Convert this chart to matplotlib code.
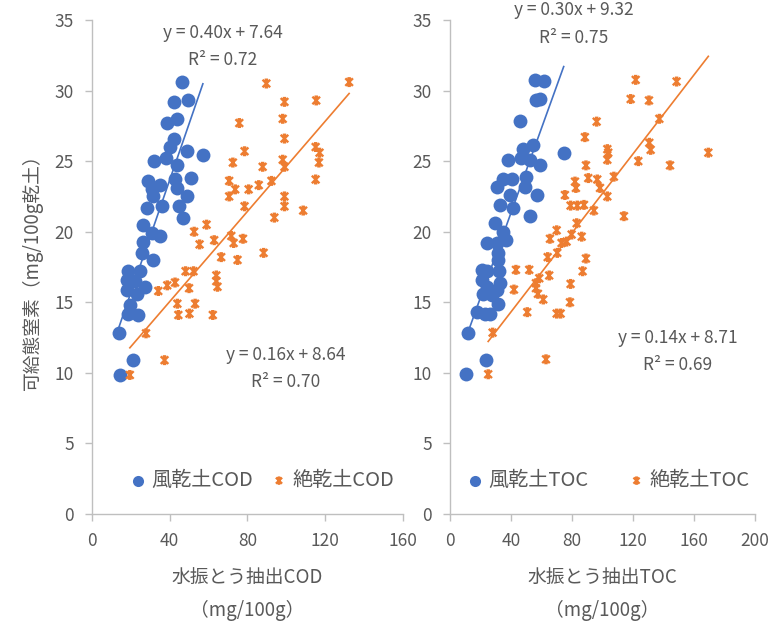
import numpy as np
import matplotlib.pyplot as plt
from matplotlib.path import Path

plt.rcParams['font.family'] = ['Noto Sans CJK JP', 'DejaVu Sans']

# 風乾土 / 絶乾土 vs 水振とう抽出COD
cod_air_x = [46.3, 42.5, 49.7, 38.9, 44.0, 42.5, 40.2, 49.2, 57.1, 32.0, 38.2, 43.7, 29.1, 35.1,
             42.8, 50.9, 43.7, 30.8, 31.6, 36.0, 48.8, 45.0, 28.2, 47.1, 26.5, 30.8, 35.1, 26.5,
             25.6, 31.6, 18.8, 24.8, 17.9, 22.2, 27.4, 17.9, 23.1, 19.6, 18.8, 23.9, 14.1, 21.0, 14.5]
cod_air_y = [30.6, 29.2, 29.3, 27.7, 28.0, 26.6, 26.0, 25.7, 25.4, 25.0, 25.2, 24.7, 23.6, 23.3,
             23.7, 23.8, 23.1, 23.0, 22.5, 21.8, 22.5, 21.8, 21.7, 21.0, 20.5, 19.9, 19.7, 19.3,
             18.5, 18.0, 17.2, 17.2, 16.6, 16.5, 16.1, 15.9, 15.6, 14.8, 14.2, 14.1, 12.8, 10.9, 9.85]

cod_oven_x = [89.7, 132.2, 99.0, 115.3, 98.1, 75.8, 99.0, 78.5, 115.0, 117.0, 116.7, 98.1, 72.5, 87.8,
              99.0, 70.6, 73.7, 80.6, 85.8, 92.3, 115.0, 70.6, 78.5, 99.0, 99.0, 93.8, 108.6, 59.0,
              52.6, 55.4, 62.9, 71.7, 72.9, 77.7, 66.5, 74.9, 88.3, 48.2, 52.3, 64.0, 64.0, 64.6,
              34.2, 38.8, 42.8, 50.0, 44.0, 53.1, 44.5, 50.2, 62.2, 27.9, 37.4, 19.6]
cod_oven_y = [30.5, 30.6, 29.2, 29.3, 28.0, 27.7, 26.6, 25.7, 26.0, 25.6, 24.9, 25.1, 24.9, 24.6,
              24.6, 23.6, 23.0, 23.0, 23.3, 23.6, 23.7, 22.5, 21.8, 22.5, 21.8, 21.0, 21.5, 20.5,
              20.0, 19.1, 19.4, 19.7, 19.2, 19.5, 18.2, 18.0, 18.5, 17.2, 17.2, 16.9, 16.5, 16.1,
              15.8, 16.2, 16.4, 16.0, 14.9, 14.9, 14.1, 14.2, 14.1, 12.8, 10.9, 9.85]

# 風乾土 / 絶乾土 vs 水振とう抽出TOC
toc_air_x = [55.6, 61.5, 56.3, 58.9, 45.8, 74.6, 54.5, 47.6, 38.2, 46.9, 52.4, 58.9, 49.7, 34.9,
             40.4, 30.6, 49.1, 39.3, 57.1, 32.7, 41.4, 52.4, 29.5, 34.9, 37.1, 24.5, 30.6, 31.6,
             31.6, 20.8, 24.1, 32.3, 20.8, 32.7, 24.1, 30.6, 21.8, 27.3, 31.6, 17.5, 22.9, 26.2,
             12.0, 23.6, 10.5]
toc_air_y = [30.75, 30.7, 29.3, 29.4, 27.85, 25.6, 26.15, 25.85, 25.1, 25.2, 25.1, 24.7, 23.9, 23.7,
             23.7, 23.2, 23.2, 22.6, 22.6, 21.9, 21.7, 21.1, 20.6, 20.0, 19.4, 19.2, 19.2, 18.5,
             18.0, 17.3, 17.2, 17.2, 16.6, 16.4, 16.1, 15.9, 15.6, 15.5, 14.9, 14.3, 14.2, 14.2,
             12.85, 10.9, 9.9]

toc_oven_x = [121.8, 148.6, 118.5, 130.5, 137.3, 96.2, 88.5, 130.7, 131.6, 103.2, 103.8, 103.2,
              169.4, 89.2, 123.5, 144.3, 107.5, 90.7, 96.6, 82.0, 82.6, 98.4, 75.4, 103.2, 79.1,
              83.5, 87.9, 94.4, 114.1, 83.1, 70.0, 79.8, 86.4, 65.6, 73.2, 76.5, 70.4, 64.1, 89.2,
              43.3, 52.0, 58.6, 65.1, 87.0, 56.4, 79.1, 42.0, 56.4, 57.7, 61.2, 78.7, 50.7, 70.0,
              72.6, 63.0, 28.0, 25.1]
toc_oven_y = [30.76, 30.64, 29.4, 29.3, 28.0, 27.8, 26.7, 26.3, 25.8, 25.85, 25.6, 25.1,
              25.6, 24.7, 25.0, 24.7, 23.9, 23.8, 23.7, 23.55, 23.1, 23.1, 22.6, 22.5, 21.85,
              21.85, 21.9, 21.5, 21.1, 20.6, 20.1, 19.8, 19.65, 19.5, 19.2, 19.3, 18.5, 18.2, 18.1,
              17.3, 17.3, 16.7, 16.9, 17.2, 16.35, 16.3, 15.9, 16.0, 15.6, 15.2, 15.0, 14.3, 14.2,
              14.2, 10.96, 12.85, 9.9]

# trendline coefficients (slope, intercept) and R² as printed on the chart
cod_air_fit = (0.40, 7.64, 0.72)
cod_oven_fit = (0.16, 8.64, 0.70)
toc_air_fit = (0.30, 9.32, 0.75)
toc_oven_fit = (0.14, 8.71, 0.69)

BLUE = '#4472C4'
ORANGE = '#ED7D31'
GRAY = '#595959'
AXIS = '#BFBFBF'

# Excel-like star marker: X with a vertical stroke and small caps
star = Path([(-1, -1), (1, 1), (-1, 1), (1, -1), (0, -1), (0, 1),
             (-0.45, 1), (0.45, 1), (-0.45, -1), (0.45, -1)],
            [Path.MOVETO, Path.LINETO, Path.MOVETO, Path.LINETO, Path.MOVETO, Path.LINETO,
             Path.MOVETO, Path.LINETO, Path.MOVETO, Path.LINETO])


def draw_trend(ax, x, fit, color):
    xs = np.array([min(x), max(x)])
    ax.plot(xs, fit[0] * xs + fit[1], color=color, lw=1.2, zorder=3)


def fit_label(ax, fit, tx, ty):
    ax.text(tx, ty, f'y = {fit[0]:.2f}x + {fit[1]:.2f}', ha='center', va='center',
            fontsize=12.5, color=GRAY, clip_on=False)
    ax.text(tx, ty - 1.95, f'R² = {fit[2]:.2f}', ha='center', va='center',
            fontsize=12.5, color=GRAY, clip_on=False)


def style_axes(ax, xmax):
    ax.set_xlim(0, xmax)
    ax.set_ylim(0, 35)
    ax.set_xticks(np.arange(0, xmax + 1, 40))
    ax.set_yticks(np.arange(0, 36, 5))
    for s in ['top', 'right']:
        ax.spines[s].set_visible(False)
    for s in ['left', 'bottom']:
        ax.spines[s].set_color(AXIS)
        ax.spines[s].set_linewidth(1.0)
    ax.tick_params(colors=AXIS, labelcolor=GRAY, labelsize=12.5, length=5, width=1.0, pad=8)


fig = plt.figure(figsize=(7.77, 6.21), dpi=100)
ax1 = fig.add_axes([0.118, 0.1723, 0.401, 0.7955])
ax2 = fig.add_axes([0.579, 0.1723, 0.3927, 0.7955])

# left panel: COD
ax1.scatter(cod_air_x, cod_air_y, s=100, color=BLUE, linewidths=0, zorder=4, label='風乾土COD')
ax1.scatter(cod_oven_x, cod_oven_y, s=30, marker=star, facecolors='none', edgecolors=ORANGE,
            linewidths=1.7, zorder=4, label='絶乾土COD')
draw_trend(ax1, cod_air_x, cod_air_fit, BLUE)
draw_trend(ax1, cod_oven_x, cod_oven_fit, ORANGE)
fit_label(ax1, cod_air_fit, 67.4, 34.1)
fit_label(ax1, cod_oven_fit, 99.8, 11.3)
style_axes(ax1, 160)
ax1.set_xlabel('水振とう抽出COD\n（mg/100g）', fontsize=13.5, color=GRAY, linespacing=1.75, labelpad=12)
ax1.set_ylabel('可給態窒素（mg/100g乾土）', fontsize=13.5, color=GRAY, labelpad=8)

# right panel: TOC
ax2.scatter(toc_air_x, toc_air_y, s=100, color=BLUE, linewidths=0, zorder=4, label='風乾土TOC')
ax2.scatter(toc_oven_x, toc_oven_y, s=30, marker=star, facecolors='none', edgecolors=ORANGE,
            linewidths=1.7, zorder=4, label='絶乾土TOC')
draw_trend(ax2, toc_air_x, toc_air_fit, BLUE)
draw_trend(ax2, toc_oven_x, toc_oven_fit, ORANGE)
fit_label(ax2, toc_air_fit, 81.3, 35.7)
fit_label(ax2, toc_oven_fit, 149.5, 12.5)
style_axes(ax2, 200)
ax2.set_xlabel('水振とう抽出TOC\n（mg/100g）', fontsize=13.5, color=GRAY, linespacing=1.75, labelpad=12)

for ax, cx, gap in ((ax1, 0.543, 0.8), (ax2, 0.516, 1.9)):
    leg = ax.legend(loc='center', bbox_to_anchor=(cx, 0.068), ncol=2, frameon=False,
                    fontsize=14.5, handletextpad=0.15, handlelength=1.0, columnspacing=gap,
                    markerscale=0.8)
    for t in leg.get_texts():
        t.set_color(GRAY)

fig.savefig('out.png', dpi=100)
